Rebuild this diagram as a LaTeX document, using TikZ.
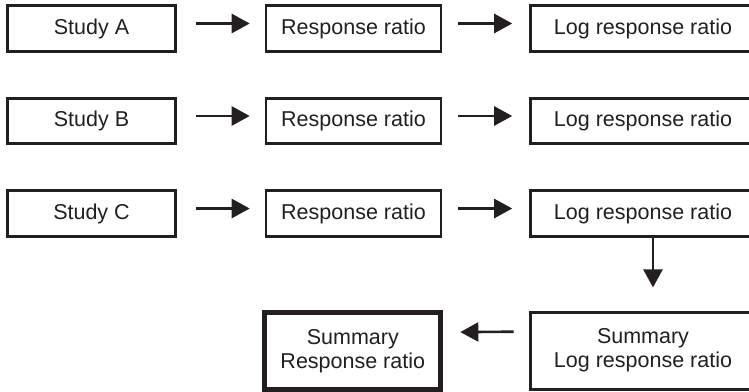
\documentclass[tikz,border=0pt]{standalone}
\usepackage{fontspec}
\setmainfont{Liberation Sans}
\usetikzlibrary{arrows.meta}
\definecolor{ink}{HTML}{231F20}
\begin{document}
\begin{tikzpicture}[x=1pt,y=-1pt,
  box/.style={draw=ink, line width=2.6pt, rectangle, inner sep=0pt, align=center,
    text=ink, font=\fontsize{21.5}{24}\selectfont},
  smallbox/.style={box, minimum width=168pt, minimum height=45.5pt},
  midbox/.style={box, minimum width=175pt, minimum height=45.5pt},
  rightbox/.style={box, minimum width=225pt, minimum height=45.5pt},
  arr/.style={draw=ink, line width=2.6pt, -{Triangle[length=18pt,width=19pt]}}
]
\useasboundingbox (0,0) rectangle (749,391);
\clip (0,0) rectangle (749,391);
% row A
\node[smallbox] (sa) at (91.5,28.5) {Study A};
\node[midbox] (ra) at (353.5,28.5) {Response ratio};
\node[rightbox] (la) at (643,28.5) {Log response ratio};
% row B
\node[smallbox] (sb) at (91.5,121) {Study B};
\node[midbox] (rb) at (353.5,121) {Response ratio};
\node[rightbox] (lb) at (643,121) {Log response ratio};
% row C
\node[smallbox] (sc) at (91.5,213.5) {Study C};
\node[midbox] (rc) at (353.5,213.5) {Response ratio};
\node[rightbox] (lc) at (643,213.5) {Log response ratio};
% bottom
\node[box, minimum width=225pt, minimum height=77pt] (sl) at (643,350.7) {Summary\\Log response ratio};
\node[box, line width=5pt, minimum width=176pt, minimum height=76.3pt] (sr) at (352.8,351.1) {Summary\\Response ratio};
% arrows
\foreach \a/\b in {sa/ra, sb/rb, sc/rc}{
  \draw[arr] ([xshift=19.5pt,yshift=5pt]\a.east) -- ([xshift=-15pt,yshift=5pt]\b.west);
}
\foreach \a/\b in {ra/la, rb/lb, rc/lc}{
  \draw[arr] ([xshift=16pt,yshift=5pt]\a.east) -- ([xshift=-17pt,yshift=5pt]\b.west);
}
\coordinate (dtop) at ([xshift=10pt]lc.south);
\draw[arr] (dtop) -- ([yshift=23.5pt]dtop |- sl.north);
\draw[arr] ([xshift=-15.5pt,yshift=19pt]sl.west) -- ([xshift=17pt,yshift=19pt]sr.east);
\end{tikzpicture}
\end{document}
